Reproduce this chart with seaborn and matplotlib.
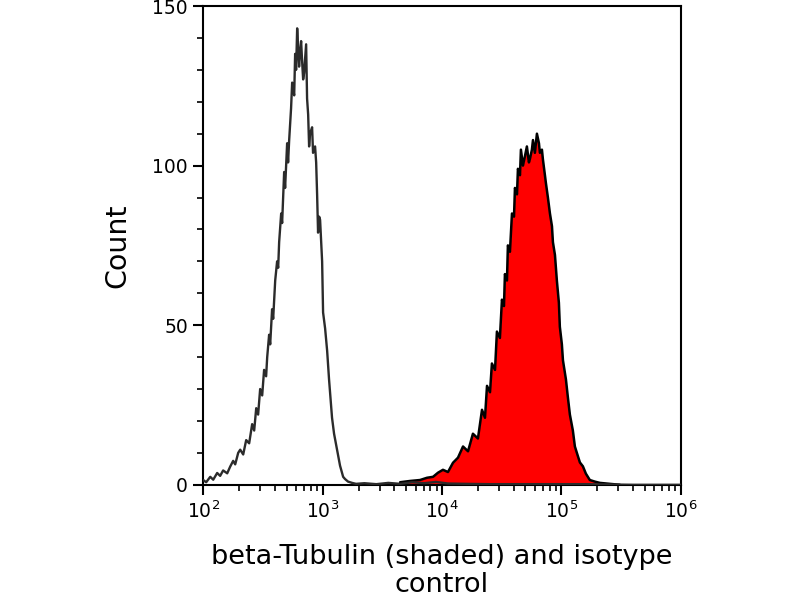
import numpy as np
import pandas as pd
import matplotlib
matplotlib.use("Agg")
import matplotlib.pyplot as plt
import seaborn as sns
from matplotlib.ticker import LogLocator, MultipleLocator, FixedLocator

# ---- data (log10 fluorescence, counts) ----
iso_log = [2.000, 2.025, 2.059, 2.084, 2.117, 2.142, 2.167, 2.201, 2.226, 2.251,
           2.268, 2.293, 2.310, 2.335, 2.360, 2.385, 2.410, 2.427, 2.444, 2.460,
           2.477, 2.494, 2.510, 2.527, 2.536, 2.552, 2.561, 2.577, 2.586, 2.603,
           2.619, 2.628, 2.636, 2.653, 2.661, 2.678, 2.686, 2.703, 2.711, 2.720,
           2.736, 2.745, 2.762, 2.770, 2.778, 2.787, 2.795, 2.803, 2.812, 2.820,
           2.828, 2.837, 2.845, 2.862, 2.870, 2.879, 2.887, 2.895, 2.912, 2.920,
           2.937, 2.946, 2.954, 2.962, 2.971, 2.979, 2.996, 3.004, 3.021, 3.038,
           3.054, 3.079, 3.096, 3.121, 3.146, 3.172, 3.188, 3.213, 3.247, 3.280,
           3.350, 3.450, 3.550, 3.650, 3.750, 3.850, 3.950, 4.050, 4.200, 4.400,
           4.600, 4.800, 5.000, 5.200, 5.400, 5.600, 5.800, 6.000]
iso_count = [1.5, 0.8, 2.5, 1.6, 3.7, 2.8, 4.5, 3.6, 5.7, 7.5,
             6.4, 10, 11, 9.5, 14, 13, 19, 17, 24, 22,
             30, 28, 36, 34, 40, 47, 44, 55, 52, 64,
             70, 68, 76, 85, 82, 98, 93, 107, 101, 108,
             118, 126, 122, 135, 130, 143, 137, 131, 136, 139,
             133, 127, 129, 138, 121, 116, 106, 110, 112, 104,
             106, 101, 91, 79, 84, 83, 70, 54, 49, 42,
             33, 21, 16, 11, 6, 2.5, 1.8, 1.0, 0.6, 0.3,
             0.5, 0.2, 0.6, 0.3, 0.8, 0.5, 0.9, 0.4, 0.3, 0.2,
             0.2, 0.2, 0.2, 0.2, 0.1, 0.0, 0.0, 0.0]

tub_log = [3.649, 3.732, 3.816, 3.874, 3.925, 3.967, 4.008, 4.050, 4.092, 4.134,
           4.176, 4.218, 4.259, 4.301, 4.335, 4.360, 4.377, 4.402, 4.418, 4.444,
           4.460, 4.485, 4.502, 4.519, 4.527, 4.544, 4.552, 4.569, 4.586, 4.603,
           4.611, 4.628, 4.636, 4.653, 4.661, 4.678, 4.695, 4.711, 4.728, 4.736,
           4.753, 4.762, 4.778, 4.795, 4.812, 4.820, 4.837, 4.845, 4.862, 4.870,
           4.887, 4.904, 4.921, 4.929, 4.946, 4.962, 4.979, 4.987, 5.004, 5.013,
           5.038, 5.054, 5.071, 5.096, 5.113, 5.138, 5.155, 5.180, 5.205, 5.238,
           5.280, 5.322, 5.406, 5.490]
tub_count = [0.8, 1.2, 1.5, 2.2, 2.5, 3.8, 4.7, 4.0, 6.9, 8.5,
             12, 10.5, 16, 14.5, 23.5, 21, 31, 29, 38, 36,
             48, 46, 58, 56, 66, 64, 75, 73, 85, 84,
             93, 91, 99, 97, 105, 100, 103, 106, 101, 102,
             105, 108, 104, 110, 107, 104, 105, 102, 97, 94.6,
             90, 85, 81, 76, 72, 64, 57, 49.5, 44, 39,
             33, 27.5, 22, 17, 12, 9, 7, 5.8, 3.5, 1.5,
             1.0, 0.6, 0.3, 0.0]

x_ticks = [1e2, 1e3, 1e4, 1e5, 1e6]
x_ticklabels = ["$10^2$", "$10^3$", "$10^4$", "$10^5$", "$10^6$"]
y_ticks = [0, 50, 100, 150]

iso = pd.DataFrame({"fl": 10 ** np.array(iso_log), "count": iso_count})
tub = pd.DataFrame({"fl": 10 ** np.array(tub_log), "count": tub_count})

sns.set_style("ticks")
plt.rcParams["font.family"] = ["DejaVu Sans"]
plt.rcParams["text.color"] = "black"
plt.rcParams["axes.labelcolor"] = "black"
plt.rcParams["xtick.color"] = "black"
plt.rcParams["ytick.color"] = "black"

fig = plt.figure(figsize=(8, 6), dpi=100)
ax = fig.add_axes([0.254, 0.192, 0.597, 0.798])

ax.fill_between(tub["fl"], 0, tub["count"], color="#ff0000", linewidth=0, zorder=2)
sns.lineplot(data=tub, x="fl", y="count", color="black", linewidth=1.8, ax=ax,
             estimator=None, sort=False, zorder=3)
sns.lineplot(data=iso, x="fl", y="count", color="#2b2b2b", linewidth=1.7, ax=ax,
             estimator=None, sort=False, zorder=4)

ax.set_xscale("log")
ax.set_xlim(1e2, 1e6)
ax.set_ylim(0, 150)
ax.xaxis.set_major_locator(FixedLocator(x_ticks))
ax.set_xticklabels(x_ticklabels)
ax.xaxis.set_minor_locator(LogLocator(base=10, subs=np.arange(2, 10)))
ax.yaxis.set_major_locator(FixedLocator(y_ticks))
ax.yaxis.set_minor_locator(MultipleLocator(10))

for s in ax.spines.values():
    s.set_visible(True)
    s.set_linewidth(1.5)
    s.set_color("black")

ax.tick_params(axis="both", which="major", length=7, width=1.5, labelsize=13.5,
               direction="out", colors="black", pad=4)
ax.tick_params(axis="both", which="minor", length=4, width=1.2, direction="out",
               colors="black")

ax.set_ylabel("Count", fontsize=20.5, labelpad=15, color="black")
ax.set_xlabel("beta-Tubulin (shaded) and isotype\ncontrol", fontsize=19.5,
              labelpad=16, linespacing=1.1, color="black")

fig.savefig("out.png", dpi=100)
